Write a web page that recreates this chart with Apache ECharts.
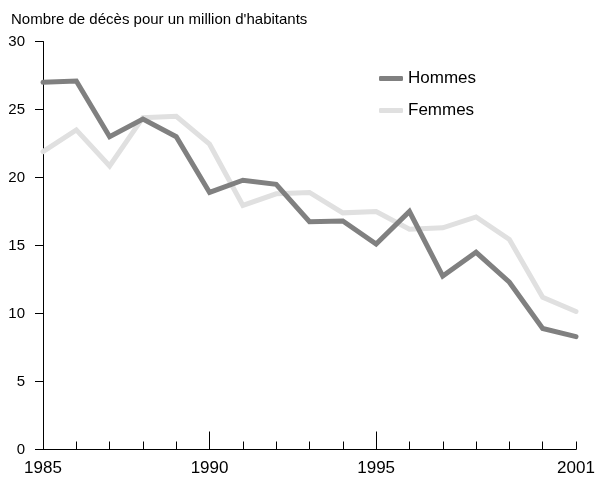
<!DOCTYPE html>
<html>
<head>
<meta charset="utf-8">
<script src="https://cdn.jsdelivr.net/npm/echarts@6/dist/echarts.min.js"></script>
<style>
html,body{margin:0;padding:0;background:#fff;}
#chart{width:595px;height:480px;}
</style>
</head>
<body>
<div id="chart"></div>
<script>
const years = [1985,1986,1987,1988,1989,1990,1991,1992,1993,1994,1995,1996,1997,1998,1999,2000,2001];
const hommes = [27.0,27.1,23.0,24.3,23.0,18.9,19.8,19.5,16.75,16.8,15.1,17.5,12.75,14.5,12.3,8.9,8.3];
const femmes = [21.9,23.5,20.85,24.4,24.5,22.45,17.95,18.8,18.9,17.4,17.5,16.2,16.3,17.1,15.45,11.2,10.15];
const xLabelYears = [1985,1990,1995,2001];
const majorTickYears = [1990,1995];
const titleText = "Nombre de décès pour un million d'habitants";
const seriesNames = ['Hommes','Femmes'];

const FONT = "'Liberation Sans', Arial, sans-serif";
const chart = echarts.init(document.getElementById('chart'), null, {renderer:'canvas'});
chart.setOption({
  animation:false,
  backgroundColor:'#ffffff',
  title:{
    text:titleText, left:6, top:7,
    textStyle:{fontFamily:FONT, fontSize:15, fontWeight:'normal', color:'#000'}
  },
  legend:{
    data:seriesNames, orient:'vertical', left:379, top:70, padding:0,
    icon:'roundRect', itemWidth:24, itemHeight:5, itemGap:15,
    textStyle:{fontFamily:FONT, fontSize:17, color:'#000'}
  },
  grid:{left:43, right:19, top:41.5, bottom:30.5, containLabel:false, outerBoundsMode:'none'},
  xAxis:[{
    type:'value', min:1985, max:2001, interval:1,
    axisLine:{show:true, onZero:false, lineStyle:{color:'#000', width:1}},
    axisTick:{show:true, inside:true, length:8, lineStyle:{color:'#000', width:1}},
    axisLabel:{
      customValues:xLabelYears, showMinLabel:true, showMaxLabel:true,
      margin:10, fontFamily:FONT, fontSize:17, color:'#000',
      formatter:function(v){return String(v);}
    },
    splitLine:{show:false}
  },{
    type:'value', min:1985, max:2001, position:'bottom',
    axisLine:{show:false},
    axisTick:{show:true, inside:true, length:18, customValues:majorTickYears, lineStyle:{color:'#000', width:1}},
    axisLabel:{show:false},
    splitLine:{show:false}
  }],
  yAxis:{
    type:'value', min:0, max:30, interval:5,
    axisLine:{show:true, lineStyle:{color:'#000', width:1}},
    axisTick:{show:true, length:8, lineStyle:{color:'#000', width:1}},
    axisLabel:{margin:18, fontFamily:FONT, fontSize:15, color:'#000'},
    splitLine:{show:false}
  },
  series:[{
    name:seriesNames[0], type:'line', z:3,
    data:years.map((y,i)=>[y,hommes[i]]),
    showSymbol:false, symbol:'none',
    lineStyle:{color:'#808080', width:5, cap:'round', join:'miter'},
    itemStyle:{color:'#808080'}
  },{
    name:seriesNames[1], type:'line', z:2,
    data:years.map((y,i)=>[y,femmes[i]]),
    showSymbol:false, symbol:'none',
    lineStyle:{color:'#e0e0e0', width:5, cap:'round', join:'miter'},
    itemStyle:{color:'#e0e0e0'}
  }]
});
</script>
</body>
</html>
